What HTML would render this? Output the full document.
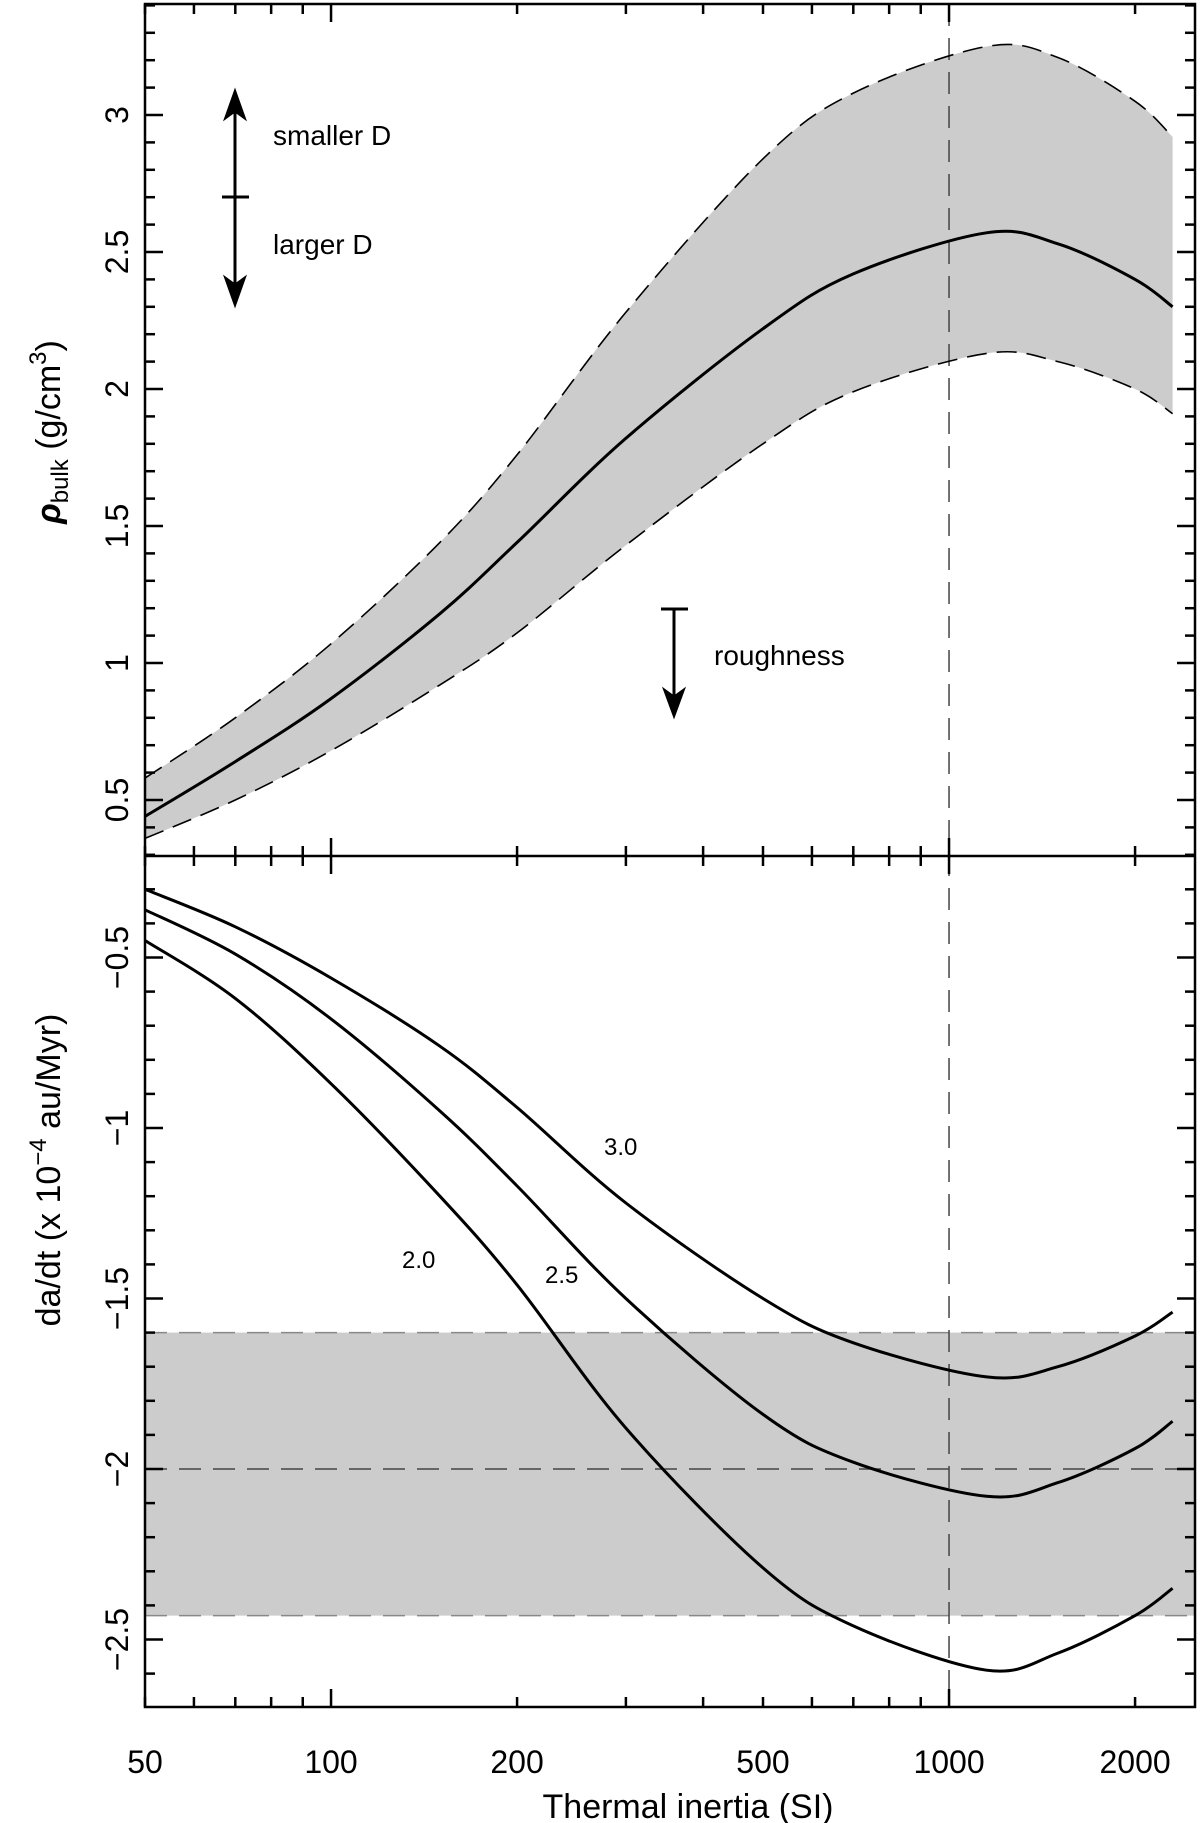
<!DOCTYPE html>
<html><head><meta charset="utf-8"><style>
html,body{margin:0;padding:0;background:#fff;}
svg{display:block;}
text{font-family:"Liberation Sans",sans-serif;fill:#000;}
</style></head><body>
<svg id="chart" width="1200" height="1823" viewBox="0 0 1200 1823" xmlns="http://www.w3.org/2000/svg">
<g id="g"></g>
</svg>
<script>
// ---- data ----
const xs = [50, 70, 100, 150, 200, 300, 500, 700, 1150, 1500, 2000, 2300];
const rhoMid   = [0.44, 0.64, 0.87, 1.18, 1.44, 1.82, 2.22, 2.42, 2.57, 2.53, 2.40, 2.30];
const rhoUpper = [0.58, 0.80, 1.07, 1.44, 1.76, 2.28, 2.84, 3.08, 3.25, 3.21, 3.05, 2.92];
const rhoLower = [0.36, 0.50, 0.68, 0.92, 1.11, 1.43, 1.80, 1.99, 2.13, 2.10, 2.00, 1.91];
const dadt30 = [-0.30, -0.41, -0.56, -0.76, -0.94, -1.22, -1.50, -1.63, -1.73, -1.70, -1.61, -1.54];
const dadt25 = [-0.36, -0.49, -0.68, -0.95, -1.17, -1.50, -1.84, -1.98, -2.08, -2.04, -1.94, -1.86];
const dadt20 = [-0.45, -0.62, -0.87, -1.20, -1.46, -1.88, -2.29, -2.46, -2.59, -2.54, -2.43, -2.35];
const bandTop = -1.6, bandMid = -2.0, bandBottom = -2.43;
const xTickLabels = [50, 100, 200, 500, 1000, 2000];
const yTopLabels = [0.5, 1, 1.5, 2, 2.5, 3];
const yBotLabels = [-0.5, -1, -1.5, -2, -2.5];
const curveLabels = ["3.0", "2.5", "2.0"];

// ---- scales ----
const L = 145, R = 1195, T = 4, M = 856, B = 1707;
const X = v => L + (Math.log10(v) - Math.log10(50)) * 618;
const YT = v => 115 + (3 - v) * 274;
const YB = v => 1128 + (-1 - v) * 341;
const NS = "http://www.w3.org/2000/svg";
const g = document.getElementById('g');
function el(tag, attrs, parent) {
  const e = document.createElementNS(NS, tag);
  for (const k in attrs) e.setAttribute(k, attrs[k]);
  (parent || g).appendChild(e);
  return e;
}
function smooth(pts, start) {
  let s = (start ? 'M' : 'L') + pts[0][0].toFixed(1) + ',' + pts[0][1].toFixed(1);
  for (let i = 0; i < pts.length - 1; i++) {
    const p0 = pts[Math.max(0, i - 1)], p1 = pts[i], p2 = pts[i + 1], p3 = pts[Math.min(pts.length - 1, i + 2)];
    const c1x = p1[0] + (p2[0] - p0[0]) / 6, c1y = p1[1] + (p2[1] - p0[1]) / 6;
    const c2x = p2[0] - (p3[0] - p1[0]) / 6, c2y = p2[1] - (p3[1] - p1[1]) / 6;
    s += 'C' + c1x.toFixed(1) + ',' + c1y.toFixed(1) + ' ' + c2x.toFixed(1) + ',' + c2y.toFixed(1) + ' ' + p2[0].toFixed(1) + ',' + p2[1].toFixed(1);
  }
  return s;
}
function pts(vals, Y) { return vals.map((v, i) => [X(xs[i]), Y(v)]); }
function path(vals, Y) { return smooth(pts(vals, Y), true); }

// top band
let d = path(rhoUpper, YT) + smooth(pts(rhoLower, YT).reverse(), false) + 'Z';
let e = el('path', {d: d, fill: '#cccccc', stroke: 'none'});


// bottom band
e = el('rect', {x: L, y: YB(bandTop), width: R - L, height: YB(bandBottom) - YB(bandTop), fill: '#cccccc'});


[bandTop, bandMid, bandBottom].forEach((v, i) => {
  const ln = el('line', {x1: L, x2: R, y1: YB(v), y2: YB(v), stroke: i == 1 ? '#444' : '#888', 'stroke-width': 1.5, 'stroke-dasharray': '22,12'});
  
  
});
// vertical dashed at 1000
e = el('line', {x1: X(1000), x2: X(1000), y1: T, y2: B, stroke: '#444', 'stroke-width': 1.5, 'stroke-dasharray': '22,12'});



// curves
[[rhoUpper, '20,10', 'density-upper'], [rhoLower, '20,10', 'density-lower'], [rhoMid, null, 'density-mid']].forEach(c => {
  const a = {d: path(c[0], YT), fill: 'none', stroke: '#000', 'stroke-width': c[1] ? 1.6 : 3, 'stroke-linejoin': 'round'};
  if (c[1]) a['stroke-dasharray'] = c[1];
  const p = el('path', a);
  
  
});
[[dadt30, 'drift-3-0'], [dadt25, 'drift-2-5'], [dadt20, 'drift-2-0']].forEach(c => {
  const p = el('path', {d: path(c[0], YB), fill: 'none', stroke: '#000', 'stroke-width': 3, 'stroke-linejoin': 'round'});
  
  
});

// frame
e = el('rect', {x: L, y: T, width: R - L, height: B - T, fill: 'none', stroke: '#000', 'stroke-width': 2.5});


e = el('line', {x1: L, x2: R, y1: M, y2: M, stroke: '#000', 'stroke-width': 2.5});



// x ticks
const tk = el('g', {stroke: '#000', 'stroke-width': 2.5});


for (let dec = 10; dec <= 1000; dec *= 10) for (let k = 1; k <= 9; k++) {
  const v = dec * k; if (v < 50 || v > 2480) continue;
  const x = X(v), len = (k == 1) ? 18 : 10;
  [[T, 1], [M, 1], [M, -1], [B, -1]].forEach(q => el('line', {x1: x, x2: x, y1: q[0], y2: q[0] + q[1] * len}, tk));
}
// y ticks
for (let i = 2; i <= 34; i++) { const v = i / 10; const y = YT(v); if (y < T || y > M) continue;
  const len = i % 5 == 0 ? 18 : 10;
  el('line', {x1: L, x2: L + len, y1: y, y2: y}, tk); el('line', {x1: R, x2: R - len, y1: y, y2: y}, tk); }
for (let i = 2; i <= 27; i++) { const v = -i / 10; const y = YB(v); if (y < M || y > B) continue;
  const len = i % 5 == 0 ? 18 : 10;
  el('line', {x1: L, x2: L + len, y1: y, y2: y}, tk); el('line', {x1: R, x2: R - len, y1: y, y2: y}, tk); }

// tick labels
xTickLabels.forEach(v => {
  const t = el('text', {x: X(v), y: 1773, 'font-size': 32, 'text-anchor': 'middle'});
  t.textContent = v;
  
  
});
function ylab(v, y, txt) {
  const t = el('text', {x: 0, y: 0, 'font-size': 32, 'text-anchor': 'middle', transform: 'translate(128,' + y + ') rotate(-90)'});
  t.textContent = txt;
  
  
}
yTopLabels.forEach(v => ylab(v, YT(v), String(v)));
yBotLabels.forEach(v => ylab(v, YB(v), '\u2212' + String(-v)));

// axis titles
let t = el('text', {x: 0, y: 0, 'font-size': 34, 'text-anchor': 'middle', transform: 'translate(688,1818)'});
t.textContent = 'Thermal inertia (SI)';


t = el('text', {x: 0, y: 0, 'font-size': 34, 'text-anchor': 'middle', transform: 'translate(60,432) rotate(-90)'});
t.innerHTML = '<tspan font-style="italic" font-weight="bold">ρ</tspan><tspan font-size="24" dy="8">bulk</tspan><tspan dy="-8"> (g/cm</tspan><tspan font-size="24" dy="-14">3</tspan><tspan dy="14">)</tspan>';


t = el('text', {x: 0, y: 0, 'font-size': 34, 'text-anchor': 'middle', transform: 'translate(60,1170) rotate(-90)'});
t.innerHTML = 'da/dt (x 10<tspan font-size="24" dy="-14">\u22124</tspan><tspan dy="14"> au/Myr)</tspan>';



// annotations
const an = el('g', {stroke: '#000', 'stroke-width': 3, fill: '#000'});


el('line', {x1: 235, x2: 235, y1: 100, y2: 296}, an);
el('line', {x1: 222, x2: 249, y1: 197, y2: 197}, an);
el('polygon', {points: '235,89 224,120 235,112 246,120', 'stroke-width': 1}, an);
el('polygon', {points: '235,307 224,276 235,284 246,276', 'stroke-width': 1}, an);
const rg = el('g', {stroke: '#000', 'stroke-width': 3, fill: '#000'});


el('line', {x1: 674, x2: 674, y1: 609, y2: 705}, rg);
el('line', {x1: 661, x2: 688, y1: 609, y2: 609}, rg);
el('polygon', {points: '674,718 663,688 674,696 685,688', 'stroke-width': 1}, rg);
[['smaller D', 273, 145, 'label-smaller-d'], ['larger D', 273, 254, 'label-larger-d'], ['roughness', 714, 665, 'label-roughness'],
 [curveLabels[0], 604, 1155, 'curve-label-3-0'], [curveLabels[1], 545, 1283, 'curve-label-2-5'], [curveLabels[2], 402, 1268, 'curve-label-2-0']].forEach(a => {
  const tt = el('text', {x: a[1], y: a[2], 'font-size': a[0].length > 3 ? 28 : 24});
  tt.textContent = a[0];
  
  
});
</script>
</body></html>
